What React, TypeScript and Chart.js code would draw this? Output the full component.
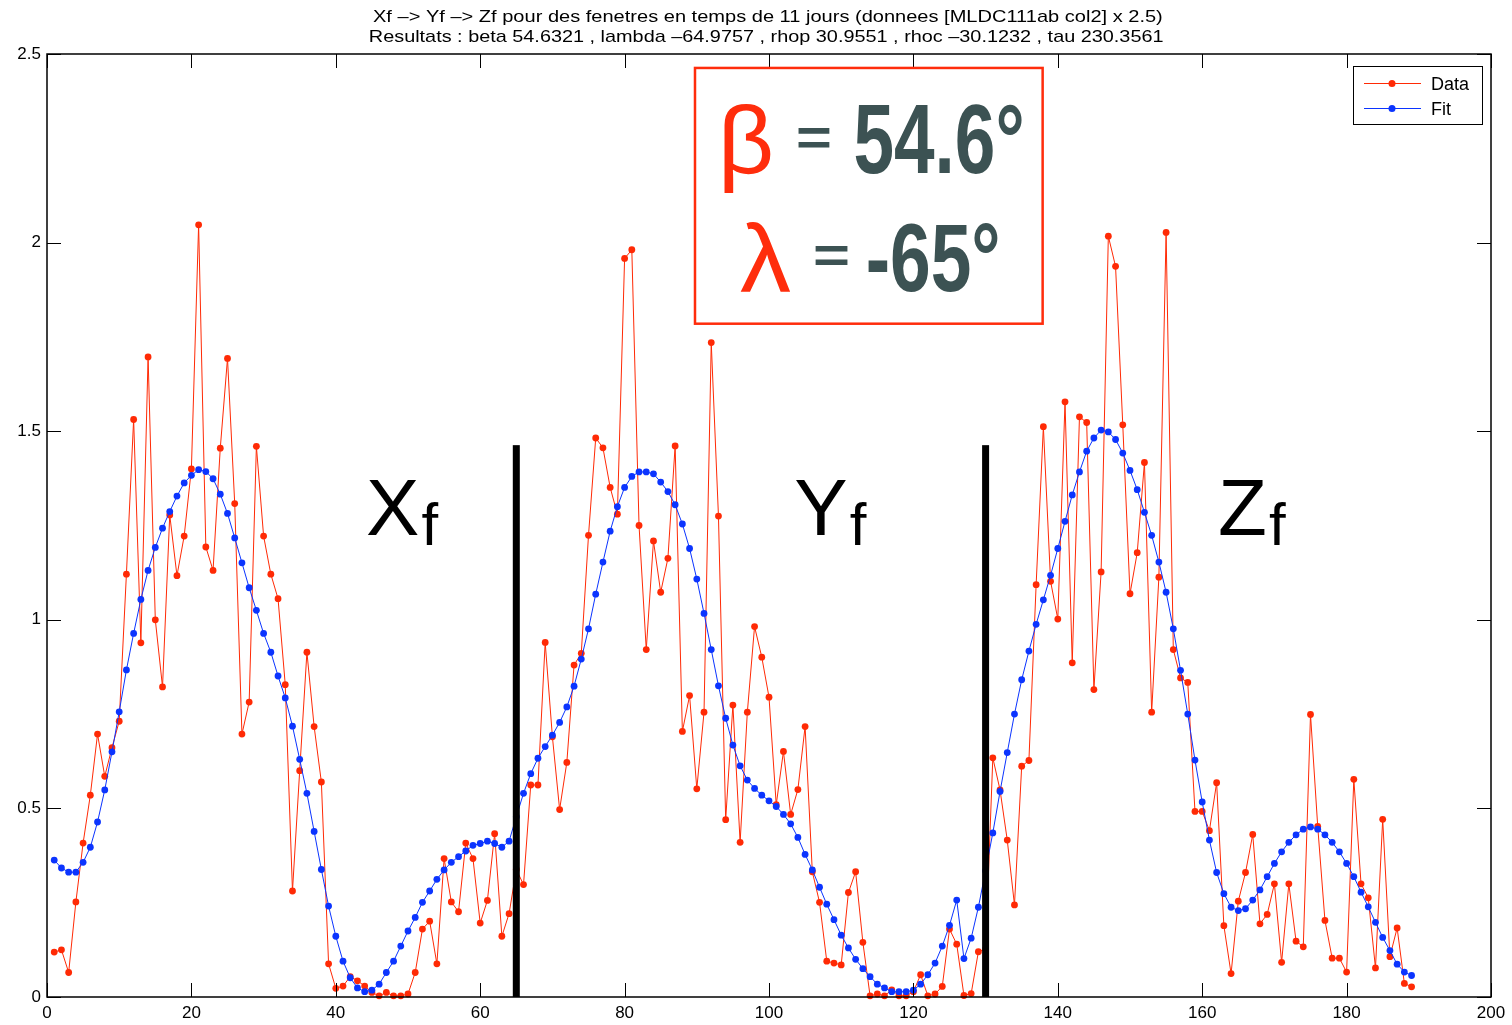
import React, { useEffect, useRef } from "react";
import { Chart, registerables } from "chart.js";

Chart.register(...registerables);

// Measured amplitude per time window (11-day windows, Xf / Yf / Zf channels back to back)
const dataValues = [
  0.119, 0.125, 0.065, 0.252, 0.408, 0.535, 0.697, 0.585, 0.661, 0.731,
  1.121, 1.531, 0.939, 1.697, 1.0, 0.822, 1.278, 1.117, 1.222, 1.4,
  2.047, 1.193, 1.131, 1.455, 1.693, 1.308, 0.697, 0.782, 1.46, 1.222,
  1.121, 1.056, 0.828, 0.281, 0.6, 0.914, 0.717, 0.57, 0.088, 0.023,
  0.029, 0.054, 0.043, 0.029, 0.012, 0.003, 0.012, 0.003, 0.003, 0.008,
  0.065, 0.18, 0.201, 0.088, 0.367, 0.252, 0.226, 0.408, 0.367, 0.196,
  0.256, 0.433, 0.161, 0.221, 0.338, 0.298, 0.562, 0.562, 0.94, 0.69,
  0.497, 0.622, 0.88, 0.911, 1.224, 1.482, 1.456, 1.351, 1.28, 1.958,
  1.981, 1.25, 0.921, 1.209, 1.073, 1.163, 1.461, 0.704, 0.799, 0.552,
  0.755, 1.735, 1.275, 0.47, 0.774, 0.41, 0.755, 0.982, 0.901, 0.795,
  0.51, 0.651, 0.484, 0.55, 0.717, 0.332, 0.251, 0.095, 0.09, 0.085,
  0.277, 0.332, 0.145, 0.003, 0.008, 0.003, 0.019, 0.003, 0.003, 0.014,
  0.059, 0.003, 0.008, 0.028, 0.18, 0.14, 0.004, 0.009, 0.12, 0.127,
  0.634, 0.549, 0.416, 0.244, 0.612, 0.627, 1.093, 1.512, 1.102, 1.002,
  1.578, 0.886, 1.538, 1.523, 0.815, 1.127, 2.017, 1.937, 1.517, 1.069,
  1.178, 1.417, 0.755, 1.113, 2.027, 0.921, 0.846, 0.834, 0.492, 0.492,
  0.441, 0.568, 0.189, 0.062, 0.254, 0.33, 0.431, 0.194, 0.219, 0.3,
  0.092, 0.3, 0.148, 0.133, 0.749, 0.452, 0.203, 0.103, 0.103, 0.066,
  0.577, 0.3, 0.263, 0.077, 0.471, 0.107, 0.183, 0.036, 0.027,
];

// Model fit for the same windows
const fitValues = [
  0.363, 0.342, 0.331, 0.331, 0.357, 0.397, 0.464, 0.549, 0.65, 0.756,
  0.867, 0.964, 1.054, 1.131, 1.192, 1.243, 1.287, 1.328, 1.363, 1.383,
  1.398, 1.393, 1.374, 1.333, 1.282, 1.217, 1.151, 1.085, 1.025, 0.964,
  0.914, 0.851, 0.793, 0.718, 0.63, 0.54, 0.439, 0.338, 0.241, 0.161,
  0.095, 0.051, 0.024, 0.014, 0.018, 0.034, 0.065, 0.095, 0.135, 0.175,
  0.211, 0.251, 0.281, 0.312, 0.337, 0.357, 0.372, 0.387, 0.402, 0.407,
  0.413, 0.407, 0.397, 0.413, 0.478, 0.54, 0.592, 0.633, 0.664, 0.694,
  0.728, 0.769, 0.824, 0.896, 0.976, 1.068, 1.153, 1.235, 1.3, 1.351,
  1.38, 1.392, 1.392, 1.387, 1.365, 1.34, 1.305, 1.254, 1.189, 1.108,
  1.017, 0.921, 0.825, 0.739, 0.668, 0.613, 0.575, 0.553, 0.535, 0.52,
  0.505, 0.484, 0.459, 0.423, 0.378, 0.337, 0.291, 0.246, 0.205, 0.164,
  0.13, 0.1, 0.075, 0.054, 0.034, 0.024, 0.014, 0.014, 0.014, 0.018,
  0.034, 0.059, 0.09, 0.135, 0.19, 0.257, 0.102, 0.156, 0.238, 0.335,
  0.435, 0.545, 0.648, 0.75, 0.841, 0.917, 0.988, 1.053, 1.118, 1.189,
  1.261, 1.331, 1.392, 1.447, 1.482, 1.503, 1.498, 1.478, 1.442, 1.396,
  1.345, 1.285, 1.224, 1.153, 1.073, 0.976, 0.866, 0.75, 0.628, 0.517,
  0.416, 0.33, 0.274, 0.238, 0.229, 0.234, 0.257, 0.284, 0.319, 0.354,
  0.385, 0.41, 0.43, 0.445, 0.451, 0.445, 0.43, 0.41, 0.385, 0.354,
  0.319, 0.278, 0.239, 0.198, 0.158, 0.123, 0.087, 0.066, 0.057,
];

// Window index (1-based)
const windowIndex = dataValues.map((_, i) => i + 1);

const xTicks = [0, 20, 40, 60, 80, 100, 120, 140, 160, 180, 200];
const yTicks = [0, 0.5, 1, 1.5, 2, 2.5];

// Boundaries between the three channels and their names
const sectionBreaks = [65, 130];
const sectionNames = ["X", "Y", "Z"];
const sectionLabelX = [44.2, 103.5, 162.2];

const titleLines = [
  "Xf –> Yf –> Zf pour des fenetres en temps de 11 jours (donnees [MLDC111ab col2] x 2.5)",
  "Resultats : beta 54.6321 , lambda –64.9757 , rhop 30.9551 , rhoc –30.1232 , tau 230.3561",
];

const resultLines = [
  { symbol: "β", value: "54.6°" },
  { symbol: "λ", value: "-65°" },
];

const legendLabels = ["Data", "Fit"];

const RED = "#ff2a05";
const BLUE = "#0b34ff";
const ANNOT_RED = "#ff2d0c";
const ANNOT_GRAY = "#3c5253";
const FONT = "'Liberation Sans', Arial, Helvetica, sans-serif";

// Draw text scaled horizontally to a given ink width, on a given baseline.
function drawFitted(
  ctx: CanvasRenderingContext2D,
  text: string,
  left: number,
  baseline: number,
  width: number,
  font: string,
  color: string
) {
  ctx.save();
  ctx.font = font;
  ctx.textAlign = "left";
  ctx.textBaseline = "alphabetic";
  const m = ctx.measureText(text);
  const ink = m.actualBoundingBoxLeft + m.actualBoundingBoxRight;
  const sx = width / ink;
  ctx.translate(left + m.actualBoundingBoxLeft * sx, baseline);
  ctx.scale(sx, 1);
  ctx.fillStyle = color;
  ctx.fillText(text, 0, 0);
  ctx.restore();
}

// Draw text so that its ink fills the box (x0, y0)-(x1, y1).
function drawInBox(
  ctx: CanvasRenderingContext2D,
  text: string,
  x0: number,
  y0: number,
  x1: number,
  y1: number,
  font: string,
  color: string
) {
  ctx.save();
  ctx.font = font;
  ctx.textAlign = "left";
  ctx.textBaseline = "alphabetic";
  const m = ctx.measureText(text);
  const inkW = m.actualBoundingBoxLeft + m.actualBoundingBoxRight;
  const inkH = m.actualBoundingBoxAscent + m.actualBoundingBoxDescent;
  const sx = (x1 - x0) / inkW;
  const sy = (y1 - y0) / inkH;
  ctx.translate(x0 + m.actualBoundingBoxLeft * sx, y0 + m.actualBoundingBoxAscent * sy);
  ctx.scale(sx, sy);
  ctx.fillStyle = color;
  ctx.fillText(text, 0, 0);
  ctx.restore();
}

const framePlugin = {
  id: "matlabFrame",
  beforeDraw(chart: any) {
    const { ctx, width, height } = chart;
    ctx.save();
    ctx.fillStyle = "#ffffff";
    ctx.fillRect(0, 0, width, height);
    ctx.restore();
  },
  afterDatasetsDraw(chart: any) {
    const { ctx } = chart;
    const x = chart.scales.x;
    const y = chart.scales.y;
    ctx.save();

    // channel separators
    ctx.fillStyle = "#000";
    const y0 = y.getPixelForValue(0);
    const yTop = y.getPixelForValue(1.463);
    for (const b of sectionBreaks) {
      const px = x.getPixelForValue(b);
      ctx.fillRect(px - 3.5, yTop, 7, y0 - yTop);
    }

    // channel names with subscript f
    ctx.textAlign = "left";
    ctx.textBaseline = "alphabetic";
    const base = y.getPixelForValue(1.225);
    sectionNames.forEach((name, i) => {
      const left = x.getPixelForValue(sectionLabelX[i]);
      ctx.font = `80px ${FONT}`;
      const m = ctx.measureText(name);
      ctx.fillText(name, left, base);
      ctx.font = `60px ${FONT}`;
      ctx.fillText("f", left + m.width + 2, base + 10);
    });
    ctx.restore();
  },
  afterDraw(chart: any) {
    const { ctx, chartArea } = chart;
    const x = chart.scales.x;
    const y = chart.scales.y;
    const { left, right, top, bottom } = chartArea;
    ctx.save();

    // axes box
    ctx.strokeStyle = "#000";
    ctx.lineWidth = 1.5;
    ctx.strokeRect(left, top, right - left, bottom - top);

    // inward tick marks on all four sides
    ctx.lineWidth = 1;
    ctx.beginPath();
    for (const t of xTicks) {
      const px = Math.round(x.getPixelForValue(t)) + 0.5;
      ctx.moveTo(px, bottom);
      ctx.lineTo(px, bottom - 14);
      ctx.moveTo(px, top);
      ctx.lineTo(px, top + 14);
    }
    for (const t of yTicks) {
      const py = Math.round(y.getPixelForValue(t)) + 0.5;
      ctx.moveTo(left, py);
      ctx.lineTo(left + 14, py);
      ctx.moveTo(right, py);
      ctx.lineTo(right - 14, py);
    }
    ctx.stroke();

    // two-line title
    drawFitted(ctx, titleLines[0], 373, 22, 789, `17px ${FONT}`, "#000");
    drawFitted(ctx, titleLines[1], 370, 42, 793, `17px ${FONT}`, "#000");

    // result box
    const bx0 = x.getPixelForValue(89.75);
    const bx1 = x.getPixelForValue(137.9);
    const by0 = y.getPixelForValue(2.463);
    const by1 = y.getPixelForValue(1.785);
    ctx.fillStyle = "#fff";
    ctx.fillRect(bx0, by0, bx1 - bx0, by1 - by0);
    ctx.strokeStyle = ANNOT_RED;
    ctx.lineWidth = 2.5;
    ctx.strokeRect(bx0, by0, bx1 - bx0, by1 - by0);

    const big = `bold 96px ${FONT}`;
    const sym = `96px ${FONT}`;
    // beta line
    drawInBox(ctx, resultLines[0].symbol, bx0 + 29, by0 + 36, bx0 + 76, by0 + 125, sym, ANNOT_RED);
    drawInBox(ctx, "=", bx0 + 103, by0 + 59, bx0 + 135, by0 + 79, big, ANNOT_GRAY);
    drawInBox(ctx, resultLines[0].value, bx0 + 160, by0 + 36, bx0 + 327, by0 + 106, big, ANNOT_GRAY);
    // lambda line
    drawInBox(ctx, resultLines[1].symbol, bx0 + 45, by0 + 154, bx0 + 96, by0 + 224, sym, ANNOT_RED);
    drawInBox(ctx, "=", bx0 + 120, by0 + 179, bx0 + 153, by0 + 198, big, ANNOT_GRAY);
    drawInBox(ctx, resultLines[1].value, bx0 + 173, by0 + 155, bx0 + 303, by0 + 224, big, ANNOT_GRAY);

    // legend
    const lx0 = 1353;
    const ly0 = 66;
    ctx.fillStyle = "#fff";
    ctx.fillRect(lx0, ly0, 129, 58);
    ctx.strokeStyle = "#000";
    ctx.lineWidth = 1;
    ctx.strokeRect(lx0 + 0.5, ly0 + 0.5, 129, 58);
    const colors = [RED, BLUE];
    legendLabels.forEach((label, i) => {
      const ly = ly0 + 17 + i * 25;
      ctx.strokeStyle = colors[i];
      ctx.lineWidth = 1;
      ctx.beginPath();
      ctx.moveTo(lx0 + 11, ly + 0.5);
      ctx.lineTo(lx0 + 68, ly + 0.5);
      ctx.stroke();
      ctx.fillStyle = colors[i];
      ctx.beginPath();
      ctx.arc(lx0 + 39, ly + 0.5, 3.5, 0, Math.PI * 2);
      ctx.fill();
      ctx.fillStyle = "#000";
      ctx.font = `18px ${FONT}`;
      ctx.textAlign = "left";
      ctx.textBaseline = "alphabetic";
      ctx.fillText(label, lx0 + 78, ly + 7);
    });

    ctx.restore();
  },
};

export default function App() {
  const canvasRef = useRef<HTMLCanvasElement | null>(null);

  useEffect(() => {
    const canvas = canvasRef.current;
    if (!canvas) return;

    const toPoints = (vals: number[]) => vals.map((v, i) => ({ x: windowIndex[i], y: v }));

    const chart = new Chart(canvas, {
      type: "line",
      data: {
        datasets: [
          {
            label: legendLabels[0],
            data: toPoints(dataValues),
            borderColor: RED,
            backgroundColor: RED,
            borderWidth: 1,
            pointRadius: 3.4,
            pointBorderWidth: 0,
            pointBackgroundColor: RED,
            tension: 0,
            clip: false,
            order: 1,
          },
          {
            label: legendLabels[1],
            data: toPoints(fitValues),
            borderColor: BLUE,
            backgroundColor: BLUE,
            borderWidth: 1,
            pointRadius: 3.4,
            pointBorderWidth: 0,
            pointBackgroundColor: BLUE,
            tension: 0,
            clip: false,
            order: 0,
          },
        ],
      },
      options: {
        animation: false,
        responsive: false,
        devicePixelRatio: 1,
        events: [],
        layout: { padding: { top: 54, right: 21, left: 0, bottom: 0 } },
        plugins: {
          legend: { display: false },
          title: { display: false },
          tooltip: { enabled: false },
        },
        scales: {
          x: {
            type: "linear",
            min: 0,
            max: 200,
            afterBuildTicks: (s: any) => {
              s.ticks = xTicks.map((v) => ({ value: v }));
            },
            afterFit: (s: any) => {
              s.height = 28;
            },
            grid: { display: false, drawTicks: false },
            border: { display: false },
            ticks: {
              autoSkip: false,
              maxRotation: 0,
              padding: 6,
              color: "#000",
              font: { family: FONT, size: 17 },
              callback: (v: any) => String(v),
            },
          },
          y: {
            type: "linear",
            min: 0,
            max: 2.5,
            afterBuildTicks: (s: any) => {
              s.ticks = yTicks.map((v) => ({ value: v }));
            },
            afterFit: (s: any) => {
              s.width = 47;
            },
            grid: { display: false, drawTicks: false },
            border: { display: false },
            ticks: {
              padding: 6,
              color: "#000",
              font: { family: FONT, size: 17 },
              callback: (v: any) => String(v),
            },
          },
        },
      },
      plugins: [framePlugin],
    });

    return () => chart.destroy();
  }, []);

  return (
    <div style={{ position: "absolute", left: 0, top: 0, width: 1512, height: 1025, background: "#fff" }}>
      <canvas ref={canvasRef} width={1512} height={1025} style={{ display: "block" }} />
    </div>
  );
}
